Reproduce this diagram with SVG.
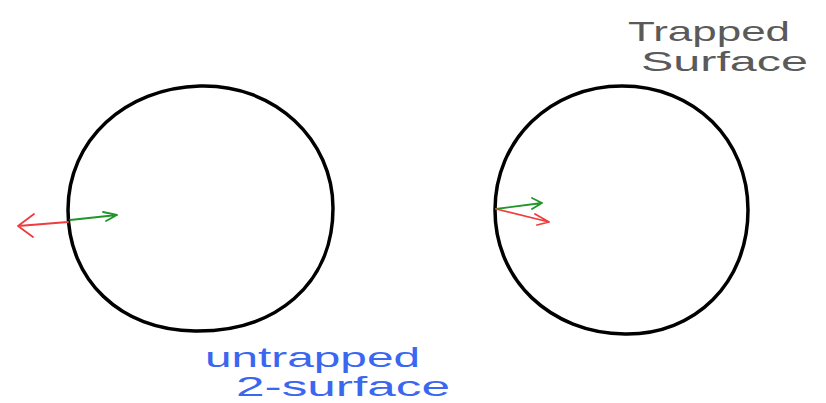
<svg xmlns="http://www.w3.org/2000/svg" width="826" height="403" viewBox="0 0 826 403">
<style>
.c{fill:none;stroke:#000;stroke-width:3.5;stroke-linecap:round;stroke-linejoin:round}
.r{fill:none;stroke:#f03c3c;stroke-width:1.8;stroke-linecap:round;stroke-linejoin:round}
.g{fill:none;stroke:#1e9628;stroke-width:1.8;stroke-linecap:round;stroke-linejoin:round}
.t{font-family:"Liberation Sans","DejaVu Sans",sans-serif;font-size:28px}
</style>
<rect width="826" height="403" fill="#fff"/>
<g id="untrapped-surface">
<path class="c" d="M200,86 C275,84 333,140 333,208 C333,285 275,332 195,331 C120,330 68,280 68,210 C68,140 125,88 200,86 Z"/>
</g>
<g id="trapped-surface">
<path class="c" d="M622,86 C695,86 748,140 748,210 C748,283 695,335 625,334 C550,333 495,280 495,210 C495,140 550,86 622,86 Z"/>
</g>
<g id="connectors">
<path class="r" d="M68,222 L18,226 M34,214 L18,226 L33,237"/>
<path class="g" d="M70,220 L117,215 M103,212 L117,215 L106,221"/>
<path class="g" d="M496,209 L542,203 M532,198 L542,203 L532,209"/>
<path class="r" d="M496,209 L549,222 M535,214 L549,222 L537,225"/>
</g>
<g id="label-untrapped">
<text class="t" x="205" y="367" fill="#3a66f0" textLength="215" lengthAdjust="spacingAndGlyphs">untrapped</text>
<text class="t" x="236" y="396" fill="#3a66f0" textLength="214" lengthAdjust="spacingAndGlyphs">2-surface</text>
</g>
<g id="label-trapped">
<text class="t" x="628" y="41" fill="#5a5a5a" textLength="162" lengthAdjust="spacingAndGlyphs">Trapped</text>
<text class="t" x="641" y="71" fill="#5a5a5a" textLength="167" lengthAdjust="spacingAndGlyphs">Surface</text>
</g>
</svg>
